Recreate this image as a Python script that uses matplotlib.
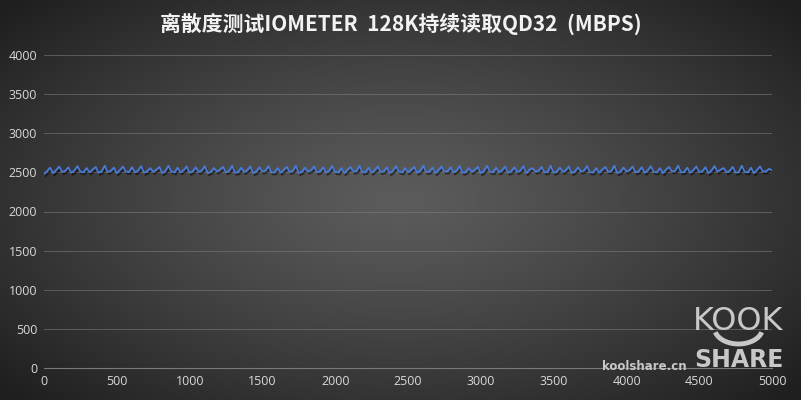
import numpy as np
import matplotlib
matplotlib.use("Agg")
import matplotlib.pyplot as plt
import matplotlib.patheffects as pe
from matplotlib.patches import Arc

plt.rcParams['font.family'] = ['Noto Sans CJK SC', 'DejaVu Sans']

title = "离散度测试IOMETER  128K持续读取QD32  (MBPS)"
x_ticks = [0, 500, 1000, 1500, 2000, 2500, 3000, 3500, 4000, 4500, 5000]
y_ticks = [0, 500, 1000, 1500, 2000, 2500, 3000, 3500, 4000]

mbps = [
    2480, 2515, 2560, 2490, 2530, 2575, 2505, 2520, 2565, 2495, 2525, 2580,
    2510, 2500, 2555, 2500, 2535, 2570, 2495, 2515, 2585, 2505, 2520, 2560,
    2490, 2530, 2575, 2510, 2505, 2565, 2500, 2525, 2580, 2495, 2515, 2555,
    2505, 2535, 2570, 2490, 2520, 2585, 2510, 2500, 2560, 2500, 2530, 2575,
    2495, 2515, 2565, 2505, 2525, 2580, 2490, 2510, 2555, 2510, 2535, 2570,
    2500, 2520, 2585, 2495, 2505, 2560, 2505, 2530, 2575, 2490, 2515, 2565,
    2510, 2525, 2580, 2500, 2500, 2555, 2495, 2535, 2570, 2505, 2520, 2585,
    2490, 2510, 2560, 2510, 2530, 2575, 2500, 2515, 2565, 2495, 2525, 2580,
    2505, 2500, 2555, 2490, 2535, 2570, 2510, 2520, 2585, 2500, 2505, 2560,
    2495, 2530, 2575, 2505, 2515, 2565, 2490, 2525, 2580, 2510, 2500, 2555,
    2500, 2535, 2570, 2495, 2520, 2585, 2505, 2510, 2560, 2490, 2530, 2575,
    2510, 2515, 2565, 2500, 2525, 2580, 2495, 2505, 2555, 2505, 2535, 2570,
    2490, 2520, 2585, 2510, 2500, 2560, 2500, 2530, 2575, 2495, 2515, 2565,
    2505, 2525, 2580, 2490, 2535, 2555, 2510, 2520, 2570, 2500, 2505, 2585,
    2495, 2510, 2560, 2505, 2530, 2575, 2490, 2515, 2565, 2510, 2525, 2580,
    2500, 2500, 2555, 2495, 2535, 2570, 2505, 2520, 2585, 2490, 2510, 2560,
    2510, 2530, 2575, 2500, 2515, 2565, 2495, 2525, 2580, 2505, 2500, 2555,
    2490, 2535, 2570, 2510, 2520, 2585, 2500, 2505, 2560, 2495, 2530, 2575,
    2505, 2515, 2565, 2490, 2525, 2580, 2510, 2535, 2555, 2500, 2520, 2570,
    2495, 2505, 2585, 2505, 2500, 2560, 2490, 2530, 2575, 2510, 2515, 2545,
    2525,
]
x_vals = np.linspace(0, 5000, len(mbps))

fig = plt.figure(figsize=(8.01, 4.0), dpi=100)

# radial gradient background
bg = fig.add_axes([0, 0, 1, 1], zorder=-10)
gx, gy = np.meshgrid(np.linspace(-1, 1, 801), np.linspace(-1, 1, 400))
r = np.sqrt((gx / 1.0) ** 2 + (gy / 1.05) ** 2)
val = 0.36 - 0.24 * np.clip(r / 1.35, 0, 1) ** 1.2
img = np.dstack([val, val, val])
bg.imshow(img, aspect='auto', extent=[0, 1, 0, 1])
bg.set_axis_off()

ax = fig.add_axes([0.055, 0.08, 0.909, 0.7825])
ax.set_facecolor('none')
ax.plot(x_vals, mbps, color='#4a7bd6', lw=1.3, zorder=3,
        path_effects=[pe.SimpleLineShadow(offset=(1, -1.5), shadow_color='black', alpha=0.5),
                      pe.Normal()])
ax.set_xlim(0, 5000)
ax.set_ylim(0, 4000)
ax.set_xticks(x_ticks)
ax.set_yticks(y_ticks)
ax.set_xticklabels([str(v) for v in x_ticks], fontsize=9, color='#d9d9d9', family='Open Sans')
ax.set_yticklabels([str(v) for v in y_ticks], fontsize=9, color='#d9d9d9', family='Open Sans')
ax.tick_params(length=0, pad=5)
ax.grid(axis='y', color='#7a7a7a', lw=0.7, alpha=0.6)
ax.set_axisbelow(True)
for s in ['top', 'right', 'left']:
    ax.spines[s].set_visible(False)
ax.spines['bottom'].set_color('#7a7a7a')
ax.spines['bottom'].set_linewidth(0.8)

fig.text(0.5, 0.94, title, ha='center', va='center', fontsize=15, fontweight='bold',
         color='#f2f2f2')

# watermark
fig.text(0.805, 0.085, "koolshare.cn", ha='center', va='center', fontsize=8.5,
         fontweight='bold', color='#c8c8c8', family='DejaVu Sans')
fig.text(0.922, 0.195, "KOOK", ha='center', va='center', fontsize=23,
         color='#c8c8c8', family='Liberation Sans Narrow')
fig.text(0.922, 0.1, "SHARE", ha='center', va='center', fontsize=17,
         fontweight='bold', color='#c8c8c8', family='Liberation Sans Narrow')
arc = Arc((0.922, 0.18), 0.06, 0.08, theta1=200, theta2=340,
          transform=fig.transFigure, color='#c8c8c8', lw=3.5)
fig.add_artist(arc)

fig.savefig('out.png', dpi=100)
